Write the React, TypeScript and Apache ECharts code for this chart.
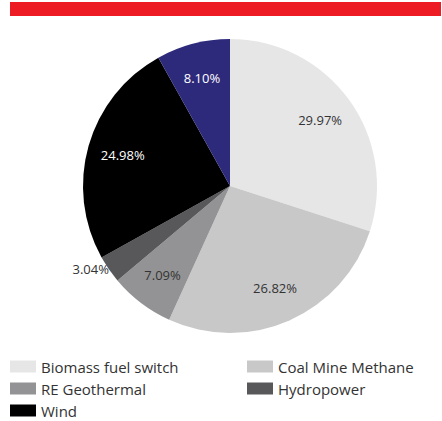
import React, { useEffect, useRef } from "react";
import * as echarts from "echarts";

const categories = ["Biomass fuel switch", "Coal Mine Methane", "RE Geothermal", "Hydropower", "Wind", "Other"];
const values = [29.97, 26.82, 7.09, 3.04, 24.98, 8.1];
const colors = ["#e6e6e7", "#c8c8c9", "#939395", "#58585a", "#000000", "#2e2a7b"];
const labelColors = ["#333333", "#333333", "#333333", "#333333", "#ffffff", "#ffffff"];
const legendLeft = ["Biomass fuel switch", "RE Geothermal", "Wind"];
const legendRight = ["Coal Mine Methane", "Hydropower"];

const FONT = "'Open Sans', 'Noto Sans', sans-serif";

export default function App() {
  const ref = useRef<HTMLDivElement>(null);
  useEffect(() => {
    document.body.style.margin = "0";
    const chart = echarts.init(ref.current!, null, { renderer: "svg" });
    const data = categories.map((name, i) => ({
      name,
      value: values[i],
      itemStyle: { color: colors[i] },
    }));
    const labelData = categories.map((name, i) => ({
      name,
      value: values[i],
      label:
        name === "Hydropower"
          ? { position: "outside", color: labelColors[i], distanceToLabelLine: 0 }
          : { position: "inside", color: labelColors[i] },
    }));
    const legendCommon = {
      orient: "vertical",
      top: 358,
      height: 63,
      padding: 0,
      itemWidth: 26,
      itemHeight: 12,
      itemGap: 5,
      icon: "rect",
      selectedMode: false,
      textStyle: { fontFamily: FONT, fontSize: 15, color: "#333", lineHeight: 17 },
    };
    chart.setOption({
      animation: false,
      graphic: [
        { type: "rect", shape: { x: 10, y: 2, width: 431, height: 14 }, style: { fill: "#ed1c24" } },
      ],
      legend: [
        { ...legendCommon, left: 10, data: legendLeft },
        { ...legendCommon, left: 247, data: legendRight },
      ],
      series: [
        {
          type: "pie",
          center: [230, 186],
          radius: [0, 147],
          startAngle: 90,
          clockwise: true,
          silent: true,
          label: { show: false },
          labelLine: { show: false },
          data,
        },
        {
          type: "pie",
          center: [230, 186],
          radius: [70, 147],
          startAngle: 90,
          clockwise: true,
          silent: true,
          legendHoverLink: false,
          itemStyle: { color: "rgba(0,0,0,0)" },
          label: {
            show: true,
            formatter: (p: any) => p.value.toFixed(2) + "%",
            fontFamily: FONT,
            fontSize: 13,
          },
          labelLine: { show: false, length: 0, length2: 0 },
          data: labelData,
        },
      ],
    });
    return () => chart.dispose();
  }, []);
  return <div ref={ref} style={{ width: 442, height: 421 }} />;
}
